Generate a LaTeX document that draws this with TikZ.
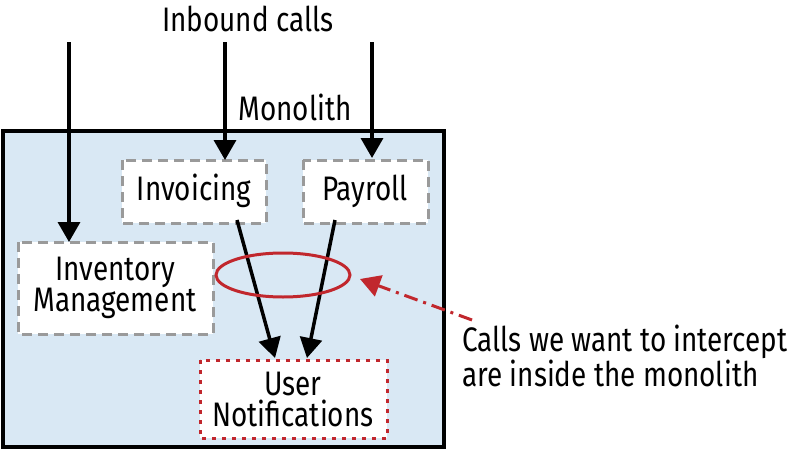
\documentclass[tikz,border=0pt]{standalone}
\usepackage{fontspec}
\setmainfont{Fira Sans}[FakeStretch=0.82]
\usetikzlibrary{arrows.meta}
\definecolor{monofill}{HTML}{D9E8F4}
\definecolor{redc}{HTML}{C1272D}
\definecolor{grayc}{HTML}{9A9A9A}
\tikzset{
  x=1pt,y=-1pt,
  txt/.style={font=\fontsize{34}{31}\selectfont,inner sep=0pt,align=center},
  svc/.style={draw=grayc,line width=3pt,dash pattern=on 10pt off 6pt,fill=white},
  redbox/.style={draw=redc,line width=3pt,dash pattern=on 4pt off 6pt,fill=white},
  call/.style={line width=3.5pt,-{Triangle[length=20pt,width=22pt]}},
}
\begin{document}
\begin{tikzpicture}
\useasboundingbox (0,0) rectangle (801,450);
\draw[line width=3.5pt,fill=monofill] (3,131) rectangle (444,447);
\node[txt] (title) at (248,19) {Inbound calls};
\node[txt] (mono) at (295,107) {Monolith};
\draw[svc] (122,160) rectangle (266,223);
\node[txt] (inv) at (194,191) {Invoicing};
\draw[svc] (303,160) rectangle (428,223);
\node[txt] (pay) at (365,191) {Payroll};
\draw[svc] (18,242) rectangle (213,334);
\node[txt] (im) at (115,288) {Inventory\\Management};
\draw[redbox] (200,360) rectangle (387,438);
\node[txt] (un) at (293,399) {User\\Notifications};
\coordinate (s1) at (69,42);
\coordinate (s2) at (225,42);
\coordinate (s3) at (372,42);
\coordinate (t1) at (69,242);
\coordinate (t2) at (225,160);
\coordinate (t3) at (372,158);
\draw[call] (s1) -- (t1);
\draw[call] (s2) -- (t2);
\draw[call] (s3) -- (t3);
\coordinate (a1) at (237,220);
\coordinate (b1) at (275,358);
\coordinate (a2) at (335,220);
\coordinate (b2) at (307,358);
\draw[call] (a1) -- (b1);
\draw[call] (a2) -- (b2);
\draw[redc,line width=3pt] (283,275) ellipse [x radius=67, y radius=22];
\node[txt,align=left,anchor=north west] (note) at (462,325) {Calls we want to intercept\\are inside the monolith};
\coordinate (ds) at (472,320);
\coordinate (dt) at (360,279);
\draw[redc,line width=3pt,dash pattern=on 14pt off 6pt on 3pt off 6pt,-{Triangle[length=20pt,width=22pt]}] (ds) -- (dt);
\end{tikzpicture}
\end{document}
